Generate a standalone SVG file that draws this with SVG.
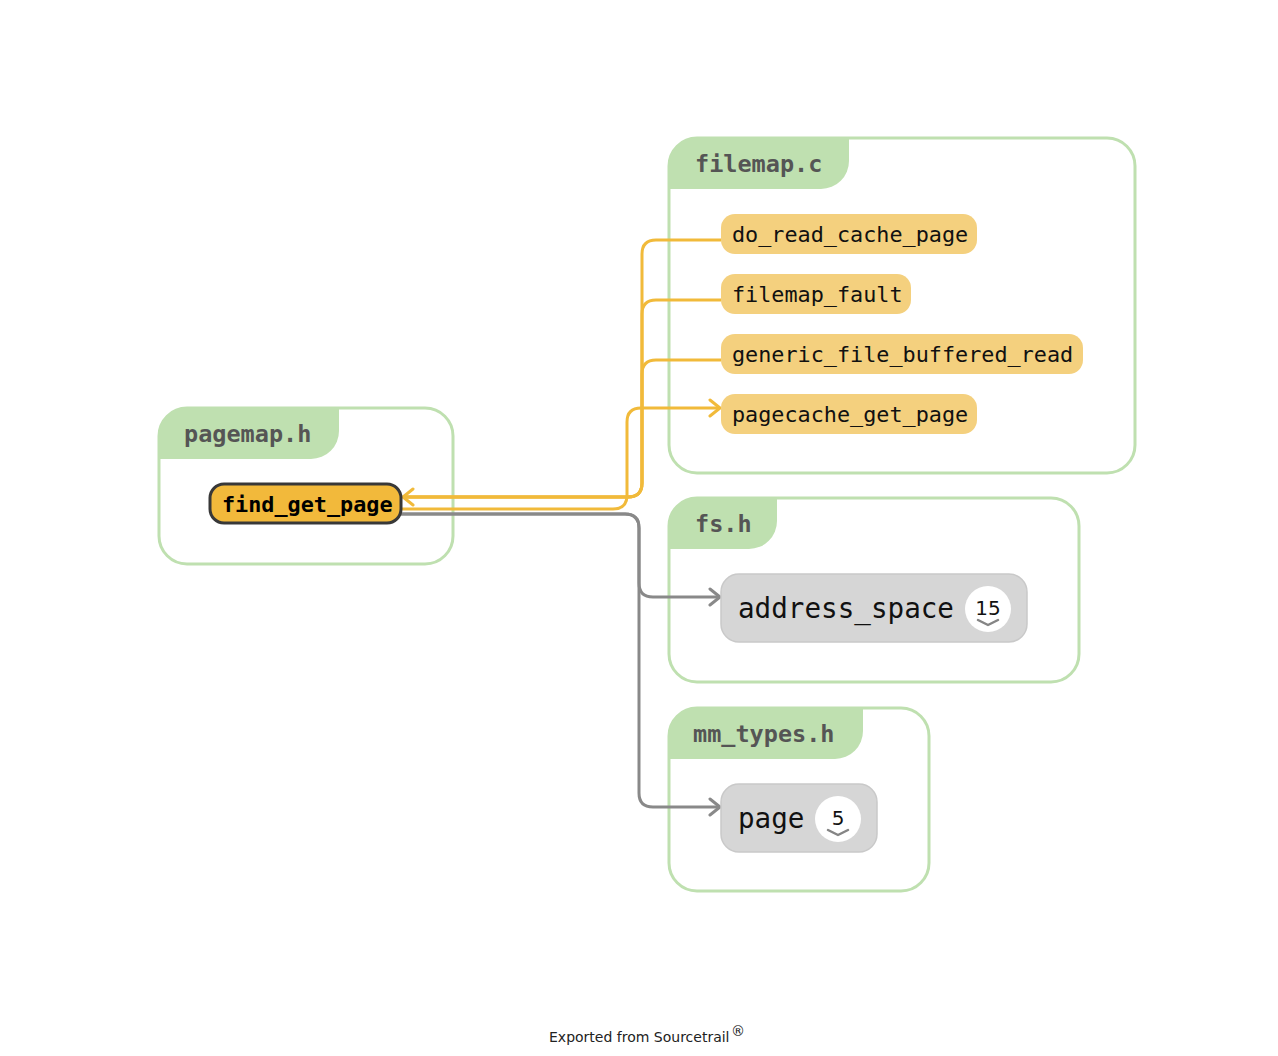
<svg xmlns="http://www.w3.org/2000/svg" width="1278" height="1056" viewBox="0 0 1278 1056">
  <style>
    .grp { fill: #ffffff; stroke: #bfe0b0; stroke-width: 3; }
    .tab { fill: #bfe0b0; }
    .title { font-family: "DejaVu Sans Mono", "Liberation Mono", monospace; font-weight: bold; font-size: 23.5px; fill: #555555; }
    .fn { fill: #f4d07e; }
    .fnText { font-family: "DejaVu Sans Mono", "Liberation Mono", monospace; font-size: 21.8px; fill: #111111; }
    .active { fill: #f2b93b; stroke: #383838; stroke-width: 3; }
    .activeText { font-family: "DejaVu Sans Mono", "Liberation Mono", monospace; font-weight: bold; font-size: 21.8px; fill: #000000; }
    .type { fill: #d6d6d6; stroke: #c9c9c9; stroke-width: 1.5; }
    .typeText { font-family: "DejaVu Sans Mono", "Liberation Mono", monospace; font-size: 27.6px; fill: #111111; }
    .badge { fill: #ffffff; }
    .badgeText { font-family: "DejaVu Sans", "Noto Sans", sans-serif; font-size: 20px; fill: #111111; text-anchor: middle; }
    .chev { fill: none; stroke: #666666; stroke-width: 2.5; stroke-linecap: round; stroke-linejoin: round; opacity: 0.8; }
    .edge { fill: none; stroke-width: 3; stroke-linejoin: round; }
    .call { stroke: #f1ba3a; }
    .use { stroke: #898989; }
    .footer { font-family: "DejaVu Sans", "Noto Sans", sans-serif; font-size: 14px; fill: #222222; }
  </style>
  <defs>
    <marker id="arrowCall" viewBox="-12 -10 14 20" markerWidth="14" markerHeight="20" refX="0" refY="0" orient="auto" markerUnits="userSpaceOnUse">
      <path d="M-10,-8 L0,0 L-10,8" fill="none" stroke="#f1ba3a" stroke-width="3" stroke-linecap="round" stroke-linejoin="round"/>
    </marker>
    <marker id="arrowUse" viewBox="-12 -10 14 20" markerWidth="14" markerHeight="20" refX="0" refY="0" orient="auto" markerUnits="userSpaceOnUse">
      <path d="M-10,-8 L0,0 L-10,8" fill="none" stroke="#898989" stroke-width="3" stroke-linecap="round" stroke-linejoin="round"/>
    </marker>
  </defs>

  <rect width="1278" height="1056" fill="#ffffff"/>

  <!-- file groups -->
  <g id="pagemap_h">
    <rect class="grp" x="159" y="408" width="294" height="156" rx="28"/>
    <path class="tab" d="M159,459 V436 A28,28 0 0 1 187,408 H339 V431 A28,28 0 0 1 311,459 Z"/>
    <text class="title" x="184" y="442">pagemap.h</text>
  </g>

  <g id="filemap_c">
    <rect class="grp" x="669" y="138" width="466" height="335" rx="28"/>
    <path class="tab" d="M669,189 V166 A28,28 0 0 1 697,138 H849 V161 A28,28 0 0 1 821,189 Z"/>
    <text class="title" x="695" y="172">filemap.c</text>
  </g>

  <g id="fs_h">
    <rect class="grp" x="669" y="498" width="410" height="184" rx="28"/>
    <path class="tab" d="M669,549 V526 A28,28 0 0 1 697,498 H777 V521 A28,28 0 0 1 749,549 Z"/>
    <text class="title" x="695" y="532">fs.h</text>
  </g>

  <g id="mm_types_h">
    <rect class="grp" x="669" y="708" width="260" height="183" rx="28"/>
    <path class="tab" d="M669,759 V736 A28,28 0 0 1 697,708 H863 V731 A28,28 0 0 1 835,759 Z"/>
    <text class="title" x="693" y="742">mm_types.h</text>
  </g>

  <!-- connectors -->
  <g id="edges">
    <path class="edge call" d="M721,240 H656 Q642,240 642,254 V483 Q642,497 628,497 H403" marker-end="url(#arrowCall)"/>
    <path class="edge call" d="M721,300 H656 Q642,300 642,314 V483 Q642,497 628,497 H403"/>
    <path class="edge call" d="M721,360 H656 Q642,360 642,374 V483 Q642,497 628,497 H403"/>
    <path class="edge call" d="M401,509 H613 Q627,509 627,495 V422 Q627,408 641,408 H720" marker-end="url(#arrowCall)"/>
    <path class="edge use" d="M401,514 H625 Q639,514 639,528 V583 Q639,597 653,597 H720" marker-end="url(#arrowUse)"/>
    <path class="edge use" d="M401,514 H625 Q639,514 639,528 V793 Q639,807 653,807 H720" marker-end="url(#arrowUse)"/>
  </g>

  <!-- symbol nodes -->
  <g id="find_get_page">
    <rect class="active" x="210" y="484" width="191" height="39" rx="14"/>
    <text class="activeText" x="222" y="512">find_get_page</text>
  </g>

  <g id="do_read_cache_page">
    <rect class="fn" x="721" y="214" width="256" height="40" rx="14"/>
    <text class="fnText" x="732" y="242">do_read_cache_page</text>
  </g>

  <g id="filemap_fault">
    <rect class="fn" x="721" y="274" width="190" height="40" rx="14"/>
    <text class="fnText" x="732" y="302">filemap_fault</text>
  </g>

  <g id="generic_file_buffered_read">
    <rect class="fn" x="721" y="334" width="362" height="40" rx="14"/>
    <text class="fnText" x="732" y="362">generic_file_buffered_read</text>
  </g>

  <g id="pagecache_get_page">
    <rect class="fn" x="721" y="394" width="256" height="40" rx="14"/>
    <text class="fnText" x="732" y="422">pagecache_get_page</text>
  </g>

  <g id="address_space">
    <rect class="type" x="721" y="574" width="306" height="68" rx="18"/>
    <text class="typeText" x="738" y="618">address_space</text>
    <circle class="badge" cx="988" cy="609" r="23"/>
    <text class="badgeText" x="988" y="615">15</text>
    <path class="chev" d="M978,620 L988,625 L998,620"/>
  </g>

  <g id="page">
    <rect class="type" x="721" y="784" width="156" height="68" rx="18"/>
    <text class="typeText" x="738" y="828">page</text>
    <circle class="badge" cx="838" cy="819" r="23"/>
    <text class="badgeText" x="838" y="825">5</text>
    <path class="chev" d="M828,830 L838,835 L848,830"/>
  </g>

  <text class="footer" x="549" y="1042">Exported from Sourcetrail</text>
  <text class="footer" x="731" y="1036" font-size="6">®</text>
</svg>
